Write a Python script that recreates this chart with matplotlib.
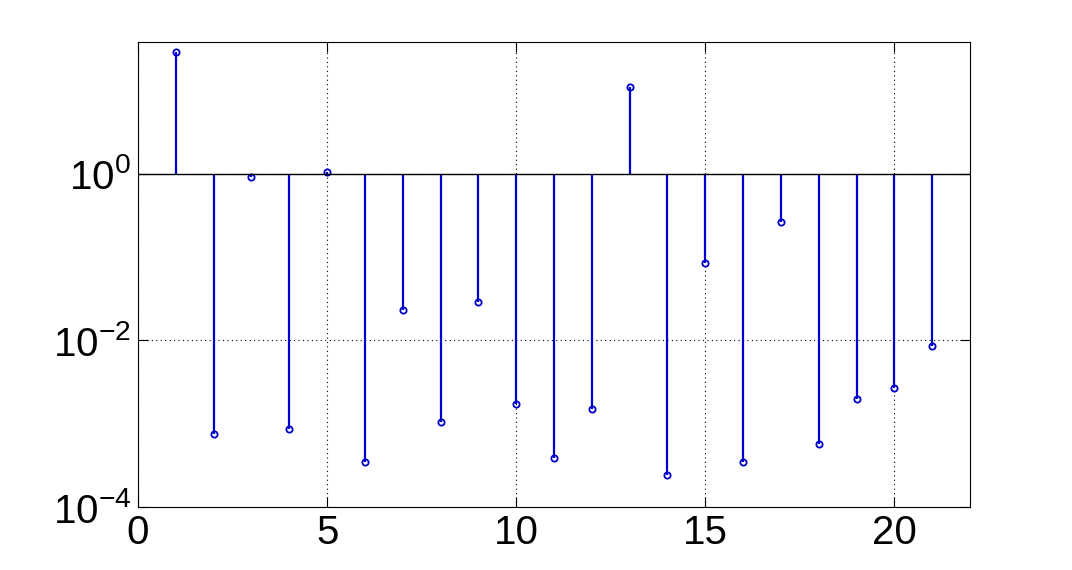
import matplotlib
matplotlib.use('Agg')
import matplotlib.pyplot as plt
from matplotlib.ticker import NullLocator

plt.rcParams['font.family'] = 'Liberation Sans'
plt.rcParams['mathtext.fontset'] = 'custom'
plt.rcParams['mathtext.rm'] = 'Liberation Sans'
plt.rcParams['mathtext.it'] = 'Liberation Sans'

# stem values (log scale)
n = list(range(1, 22))
vals = [28.9, 7.5e-4, 0.92, 8.6e-4, 1.06, 3.46e-4, 0.0229, 1.04e-3, 0.0285,
        1.71e-3, 3.86e-4, 1.49e-3, 11.0, 2.42e-4, 0.0859, 3.46e-4, 0.266,
        5.68e-4, 1.96e-3, 2.66e-3, 8.48e-3]
xticks = [0, 5, 10, 15, 20]
yticks = [1e-4, 1e-2, 1e0]
ylabels = ['$10^{-4}$', '$10^{-2}$', '$10^{0}$']

fig = plt.figure(figsize=(10.72, 5.70), dpi=100)
ax = fig.add_axes([0.1287, 0.1105, 0.7762, 0.8158])
ax.set_yscale('log')

markers, stems, base = ax.stem(n, vals, bottom=1, linefmt='b-', markerfmt='bo',
                               basefmt='k-')
markers.set_markerfacecolor('none')
markers.set_markeredgecolor('#0000cc')
markers.set_markersize(4.5)
markers.set_markeredgewidth(1.3)
stems.set_color('#0000cc')
stems.set_linewidth(1.6)
base.set_color('black')
base.set_linewidth(1.0)
base.set_xdata([0, 22])

ax.set_xlim(0, 22)
ax.set_ylim(1e-4, 38)
ax.set_xticks(xticks)
ax.set_yticks(yticks)
ax.set_yticklabels(ylabels)
ax.yaxis.set_minor_locator(NullLocator())

ax.grid(True, which='major', linestyle=(0, (1, 3)), color='black', linewidth=0.8)
ax.set_axisbelow(True)
ax.tick_params(direction='in', top=True, right=True, labelsize=29, length=7,
               width=0.8, pad=5)
for s in ax.spines.values():
    s.set_linewidth(0.8)

fig.savefig('out.png', dpi=100, facecolor='white')
